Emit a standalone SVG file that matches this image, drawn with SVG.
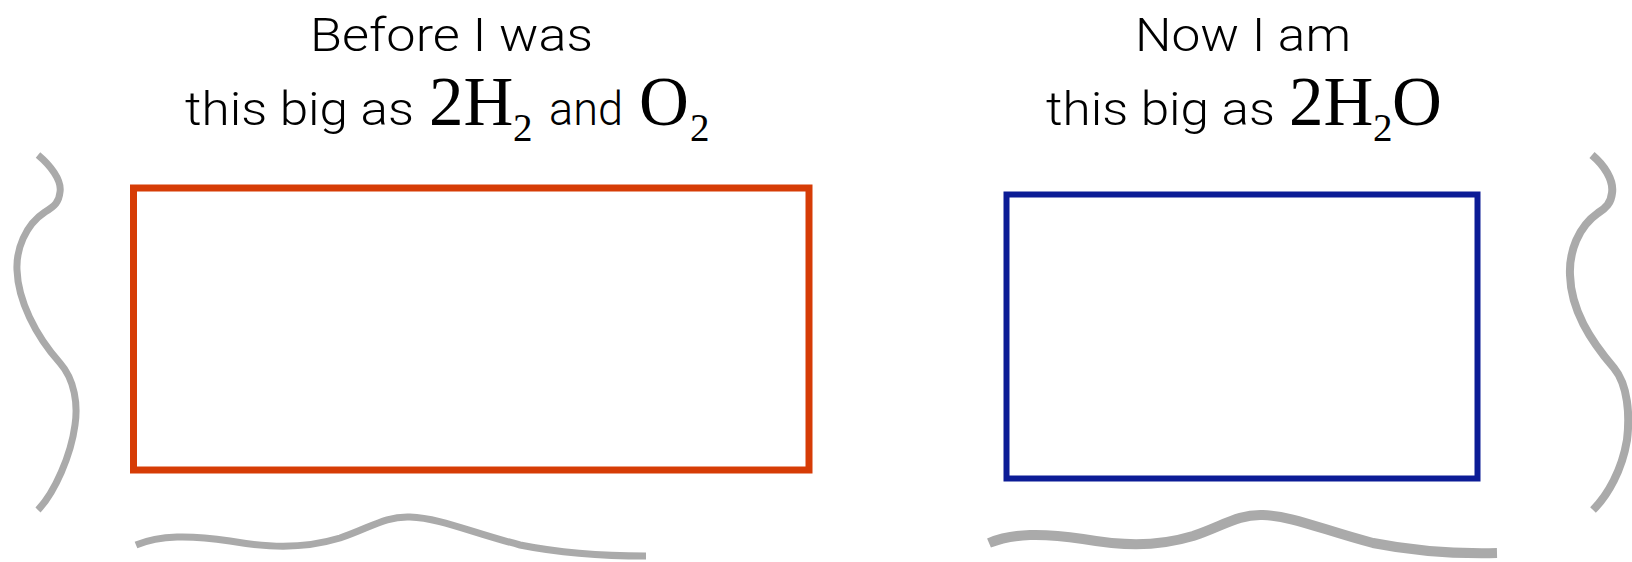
<svg xmlns="http://www.w3.org/2000/svg" width="1632" height="562" viewBox="0 0 1632 562">
<style>
.t{font-family:Roboto,"Liberation Sans",sans-serif;font-weight:300;font-size:46px;fill:#000}
.s{font-family:"Liberation Serif",serif;font-weight:400;font-size:69px;fill:#000}
.b{font-family:"Liberation Serif",serif;font-weight:400;font-size:39px;fill:#000}
.c{fill:none;stroke:#aaaaaa;stroke-linecap:butt;stroke-linejoin:round}
</style>
<rect width="1632" height="562" fill="#fff"/>
<g id="before">
<rect x="133.5" y="188" width="675.5" height="282" fill="none" stroke="#d63c06" stroke-width="7"/>
<text class="t" x="310" y="51" textLength="283" lengthAdjust="spacingAndGlyphs">Before I was</text>
<text class="t" x="185" y="125" textLength="229" lengthAdjust="spacingAndGlyphs">this big as</text>
<text class="s" x="429" y="125">2H</text>
<text class="b" x="513" y="141">2</text>
<text class="t" x="549" y="125" textLength="74" lengthAdjust="spacingAndGlyphs">and</text>
<text class="s" x="639" y="125">O</text>
<text class="b" x="690" y="141">2</text>
</g>
<g id="now">
<rect x="1006.5" y="194.5" width="471" height="284" fill="none" stroke="#0c1c96" stroke-width="6"/>
<text class="t" x="1135" y="51" textLength="216" lengthAdjust="spacingAndGlyphs">Now I am</text>
<text class="t" x="1046" y="125" textLength="229" lengthAdjust="spacingAndGlyphs">this big as</text>
<text class="s" x="1289" y="125">2H</text>
<text class="b" x="1373" y="141">2</text>
<text class="s" x="1392" y="125">O</text>
</g>
<g id="connectors">
<path class="c" stroke-width="7" d="M38,155 C50,165 62,180 60,192 C59,202 55,206 45,212 C25,225 16,250 17,270 C18,300 35,335 60,363 C75,380 78,405 75,425 C71,455 55,492 38,510"/>
<path class="c" stroke-width="8" d="M1592,155 C1604,165 1614,180 1612,193 C1611,203 1606,208 1598,213 C1578,227 1569,252 1570,275 C1571,310 1590,340 1614,368 C1628,385 1630,415 1627,440 C1622,470 1608,495 1593,510"/>
<path class="c" stroke-width="7" d="M136,545 C160,535 190,535 230,541 C265,547 300,550 340,538 C370,528 385,516 410,517 C440,518 470,532 520,545 C560,553 600,556 646,556"/>
<path class="c" stroke-width="10" d="M989,543 C1013,533 1043,533 1083,539 C1118,545 1153,548 1193,536 C1223,526 1238,514 1263,515 C1293,516 1323,530 1373,543 C1413,551 1453,554 1497,553"/>
</g>
</svg>
